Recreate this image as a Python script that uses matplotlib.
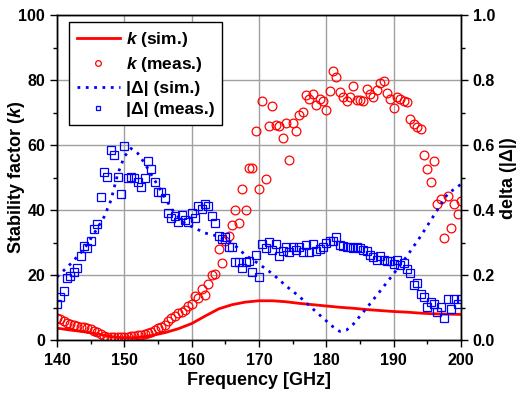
#
# Stability factor k and |delta| vs frequency
#
import matplotlib
matplotlib.use('Agg')
import matplotlib.pyplot as plt
from matplotlib.ticker import MultipleLocator
import numpy as np

plt.rcParams['font.family'] = ['Liberation Sans', 'DejaVu Sans']
plt.rcParams['font.weight'] = 'bold'
plt.rcParams['mathtext.fontset'] = 'custom'
plt.rcParams['mathtext.it'] = 'Liberation Sans:italic:bold'
plt.rcParams['mathtext.rm'] = 'Liberation Sans:bold'

# Measured points, every 0.5 GHz from 140 to 200 GHz
meas_freq = np.arange(140.0, 200.01, 0.5)

k_meas = [
    6.8, 6.5, 6.1, 5.5, 5.1, 4.8, 4.5, 4.2, 4.0, 3.7,
    3.4, 3.0, 2.7, 2.0, 1.4, 1.2, 1.0, 1.0, 1.1, 1.0,
    1.1, 1.2, 1.3, 1.5, 1.6, 1.8, 2.0, 2.2, 2.6, 3.2,
    3.7, 4.2, 4.8, 6.1, 6.8, 7.5, 8.3, 8.8, 9.4, 10.7,
    11.2, 13.7, 13.0, 15.7, 14.0, 17.4, 20.1, 20.4, 28.0, 23.7,
    30.5, 32.1, 35.5, 40.1, 36.2, 46.4, 40.1, 52.9, 52.9, 64.4,
    46.4, 73.7, 49.5, 65.9, 72.0, 66.1, 65.9, 62.1, 66.7, 55.5,
    66.9, 64.5, 69.3, 70.2, 75.3, 74.3, 75.7, 72.3, 74.3, 73.7,
    70.7, 76.6, 82.9, 80.8, 76.3, 74.8, 73.7, 74.7, 78.1, 74.0,
    73.8, 73.6, 77.4, 75.8, 74.7, 77.1, 79.2, 79.7, 76.1, 74.2,
    71.5, 74.8, 74.2, 73.6, 73.3, 68.1, 66.4, 65.7, 65.0, 56.9,
    52.6, 48.7, 55.1, 41.8, 43.6, 31.6, 44.4, 34.6, 42.0, 38.9,
    42.9,
]

delta_meas = [
    0.112, 0.133, 0.153, 0.191, 0.199, 0.211, 0.222, 0.261, 0.290, 0.283,
    0.306, 0.344, 0.358, 0.442, 0.519, 0.501, 0.585, 0.570, 0.501, 0.450,
    0.599, 0.500, 0.503, 0.498, 0.486, 0.473, 0.498, 0.552, 0.526, 0.488,
    0.457, 0.457, 0.437, 0.393, 0.375, 0.382, 0.365, 0.386, 0.370, 0.365,
    0.391, 0.375, 0.413, 0.404, 0.419, 0.414, 0.382, 0.362, 0.321, 0.311,
    0.319, 0.288, 0.286, 0.242, 0.242, 0.222, 0.242, 0.245, 0.211, 0.263,
    0.196, 0.296, 0.283, 0.304, 0.278, 0.296, 0.260, 0.275, 0.286, 0.273,
    0.286, 0.278, 0.286, 0.273, 0.293, 0.273, 0.296, 0.275, 0.281, 0.288,
    0.299, 0.307, 0.307, 0.317, 0.293, 0.290, 0.286, 0.288, 0.283, 0.286,
    0.283, 0.279, 0.275, 0.262, 0.257, 0.246, 0.259, 0.247, 0.245, 0.244,
    0.235, 0.246, 0.232, 0.237, 0.219, 0.207, 0.170, 0.178, 0.143, 0.133,
    0.102, 0.119, 0.112, 0.089, 0.104, 0.068, 0.128, 0.096, 0.128, 0.111,
    0.128,
]

# Simulated curves
ksim_freq = [140, 142, 144, 146, 148, 150, 152, 154, 156, 158, 160, 162, 164, 166,
             168, 170, 172, 174, 176, 178, 180, 182, 184, 186, 188, 190, 192, 194,
             196, 198, 200]
k_sim = [3.8, 3.2, 2.7, 2.0, 1.2, 0.8, 0.9, 1.5, 2.4, 3.6, 5.2, 7.5, 9.7, 11.0,
         11.8, 12.2, 12.2, 11.9, 11.4, 11.0, 10.6, 10.2, 9.9, 9.5, 9.2, 8.9, 8.7, 8.4,
         8.2, 8.1, 8.0]

dsim_freq = [140, 142, 144, 146, 147, 148, 149, 150, 151, 152, 153, 154, 155, 156,
             157, 158, 159, 160, 162, 164, 166, 168, 170, 172, 174, 176, 178, 180,
             181, 182, 183, 184, 185, 186, 188, 190, 192, 194, 196, 198, 200]
delta_sim = [0.195, 0.235, 0.28, 0.345, 0.38, 0.43, 0.51, 0.565, 0.59, 0.575, 0.545,
             0.51, 0.475, 0.44, 0.405, 0.38, 0.36, 0.35, 0.33, 0.32, 0.30, 0.262,
             0.235, 0.205, 0.168, 0.135, 0.097, 0.06, 0.042, 0.028, 0.032, 0.05,
             0.075, 0.10, 0.152, 0.205, 0.26, 0.32, 0.385, 0.45, 0.48]

fig = plt.figure(figsize=(5.2, 3.94), dpi=100)
ax = fig.add_axes([0.1096, 0.1358, 0.7769, 0.8262])
ax2 = ax.twinx()

l1, = ax.plot(ksim_freq, k_sim, color='#ff0000', lw=2, label='$k$ (sim.)')
l2, = ax.plot(meas_freq, k_meas, 'o', ms=6.3, mfc='none', mec='#ff0000', mew=0.9,
              label='$k$ (meas.)')
l3, = ax2.plot(dsim_freq, delta_sim, color='#0000ff', lw=2, linestyle=(0, (1, 2)),
               label='|Δ| (sim.)')
l4, = ax2.plot(meas_freq, delta_meas, 's', ms=5.3, mfc='none', mec='#0000ff', mew=0.9,
               label='|Δ| (meas.)')

ax.set_xlim(140, 200)
ax.set_ylim(0, 100)
ax2.set_ylim(0, 1.0)

ax.xaxis.set_major_locator(MultipleLocator(10))
ax.xaxis.set_minor_locator(MultipleLocator(5))
ax.yaxis.set_major_locator(MultipleLocator(20))
ax.yaxis.set_minor_locator(MultipleLocator(10))
ax2.yaxis.set_major_locator(MultipleLocator(0.2))
ax2.yaxis.set_minor_locator(MultipleLocator(0.1))
ax2.yaxis.set_major_formatter(plt.FormatStrFormatter('%.1f'))

ax.grid(True, which='major', color='#a0a0a0', lw=1)
ax.set_axisbelow(True)

for a in (ax, ax2):
    a.tick_params(which='major', direction='out', length=5, width=1, labelsize=11.5)
    a.tick_params(which='minor', direction='out', length=3, width=1)
    for s in a.spines.values():
        s.set_linewidth(1)
ax.tick_params(top=False, which='both')
ax.tick_params(axis='x', pad=4)

ax.set_xlabel('Frequency [GHz]', fontsize=13, fontweight='bold', labelpad=3)
ax.set_ylabel('Stability factor ($k$)', fontsize=13, fontweight='bold')
ax2.set_ylabel('delta (|Δ|)', fontsize=13, fontweight='bold')
ax.yaxis.set_label_coords(-0.074, 0.5)
ax2.yaxis.set_label_coords(1.097, 0.5)

leg = ax2.legend(handles=[l1, l2, l3, l4], loc='upper left',
                 bbox_to_anchor=(0.029, 0.978), fontsize=12.5, markerscale=0.65,
                 handlelength=2.5, handletextpad=0.35, labelspacing=0.36,
                 borderpad=0.45, borderaxespad=0, fancybox=False, framealpha=1,
                 edgecolor='black')
leg.get_frame().set_linewidth(1)

fig.savefig('out.png', dpi=100)
